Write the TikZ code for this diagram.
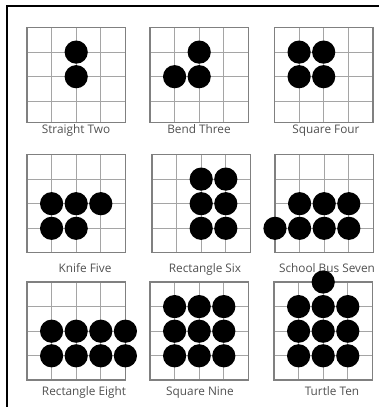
\documentclass[tikz,border=0pt]{standalone}
\usepackage{fontspec}
\setmainfont{Open Sans}
\usetikzlibrary{positioning}

\definecolor{gridgray}{HTML}{A5A5A5}
\definecolor{edgegray}{HTML}{808080}
\definecolor{labelgray}{HTML}{505050}

\tikzset{
  gridline/.style={draw=gridgray, line width=1pt},
  boardedge/.style={draw=edgegray, line width=1.2pt},
  stone/.style={fill=black},
  golabel/.style={font=\fontsize{11.8}{12}\selectfont, text=labelgray, inner sep=0pt, anchor=base},
  frameline/.style={draw=black, line width=1.4pt}
}

% #1 name, #2 x, #3 y (top left corner), #4 board height, #5 stones as col/row
\newcommand{\goboard}[5]{%
  \coordinate (#1) at (#2,#3);
  \begin{scope}[shift={(#1)}]
    \foreach \k in {1,2,3}{
      \draw[gridline] (\k*24.6,0) -- (\k*24.6,#4);
      \draw[gridline] (0,\k*24.6) -- (98.4,\k*24.6);
    }
    \draw[boardedge] (0,0) rectangle (98.4,#4);
    \foreach \c/\r in {#5}
      \fill[stone] (\c*24.6,\r*24.6) circle (11.6pt);
  \end{scope}
}

\begin{document}
\begin{tikzpicture}[x=1pt, y=-1pt]
    \useasboundingbox (0,0) rectangle (379,407);

    % Outer frame (only top and left sides visible)
    \draw[frameline] (379,6) -- (7,6) -- (7,407);

    % Row 1
    \goboard{two}{27}{27.5}{95}{2/1,2/2}
    \goboard{three}{150}{27.5}{95}{2/1,1/2,2/2}
    \goboard{four}{274.5}{27.5}{95}{1/1,2/1,1/2,2/2}
    \node[golabel] (two-lbl) at (76,133) {Straight Two};
    \node[golabel] (three-lbl) at (199,133) {Bend Three};
    \node[golabel] (four-lbl) at (326,133) {Square Four};

    % Row 2
    \goboard{five}{27}{154.5}{98}{1/2,2/2,3/2,1/3,2/3}
    \goboard{six}{152}{154.5}{98}{2/1,3/1,2/2,3/2,2/3,3/3}
    \goboard{seven}{275}{154.5}{98}{1/2,2/2,3/2,0/3,1/3,2/3,3/3}
    \node[golabel] (five-lbl) at (85,272) {Knife Five};
    \node[golabel] (six-lbl) at (205,272) {Rectangle Six};
    \node[golabel] (seven-lbl) at (327,272) {School Bus Seven};

    % Row 3
    \goboard{eight}{27}{282}{98}{1/2,2/2,3/2,4/2,1/3,2/3,3/3,4/3}
    \goboard{nine}{150}{282}{98}{1/1,2/1,3/1,1/2,2/2,3/2,1/3,2/3,3/3}
    \goboard{ten}{274}{282}{98}{2/0,1/1,2/1,3/1,1/2,2/2,3/2,1/3,2/3,3/3}
    \node[golabel] (eight-lbl) at (84,395) {Rectangle Eight};
    \node[golabel] (nine-lbl) at (200,395) {Square Nine};
    \node[golabel] (ten-lbl) at (332,395) {Turtle Ten};
\end{tikzpicture}
\end{document}
